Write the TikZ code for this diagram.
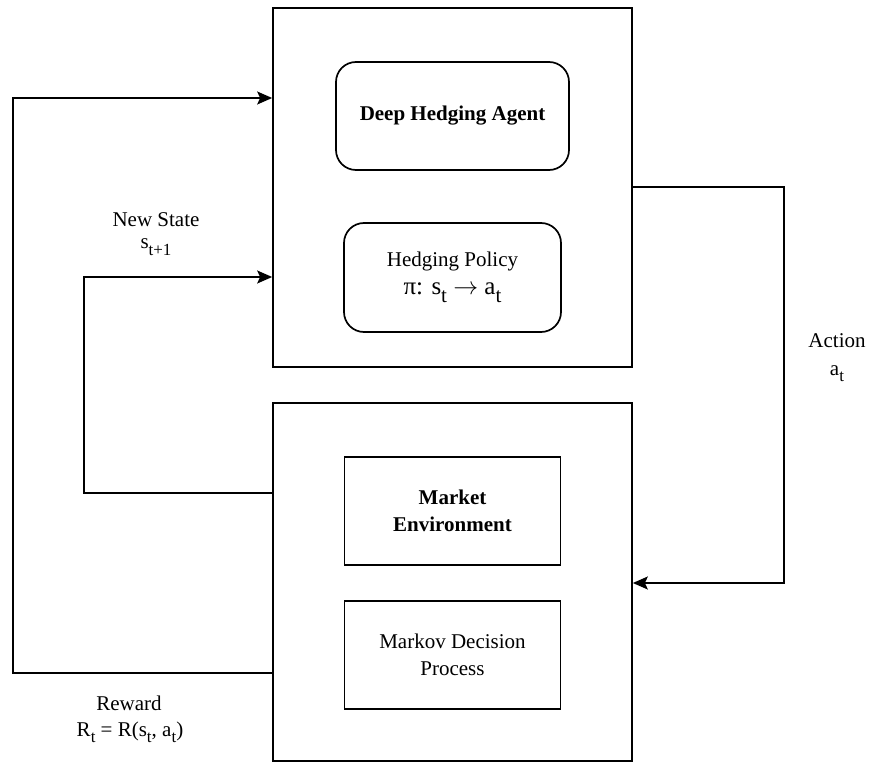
\documentclass[tikz,border=0pt]{standalone}
\usepackage{fontspec}
\setmainfont{Liberation Serif}
\usetikzlibrary{arrows.meta}
\newcommand\mysub[1]{\raisebox{-0.3em}{\fontsize{17}{17}\selectfont #1}}
\newcommand\bigsub[1]{\raisebox{-0.3em}{\fontsize{21}{21}\selectfont #1}}
\begin{document}
\begin{tikzpicture}[x=1pt,y=-1pt,line width=1.7pt,
  outer/.style={draw,minimum width=359pt,minimum height=359pt,inner sep=0pt},
  inbox/.style={draw,minimum width=216pt,minimum height=108pt,inner sep=0pt,align=center,font=\fontsize{21}{27}\selectfont},
  lbl/.style={align=center,font=\fontsize{21}{26}\selectfont,inner sep=0pt,anchor=base},
  conn/.style={-{Stealth[length=15pt,width=13pt,inset=3pt]},line width=1.7pt}]
\useasboundingbox (0,0) rectangle (871,762);
\node[outer] (top) at (452.5,187.5) {};
\node[outer,minimum height=358pt] (bot) at (452.5,582) {};
\node[inbox,rounded corners=20pt,minimum width=233pt] (agent) at (452.5,116) {\textbf{Deep Hedging Agent}};
\node[inbox,rounded corners=20pt,minimum width=217pt,minimum height=109pt] (policy) at (452.5,277.5) {Hedging Policy\\[1pt]{\fontsize{25}{30}\selectfont π: s\bigsub{t} \(\rightarrow\) a\bigsub{t}}};
\node[inbox] (market) at (452.5,511) {\textbf{Market}\\\textbf{Environment}};
\node[inbox] (markov) at (452.5,655) {Markov Decision\\Process};
\coordinate (c1) at (13,673);
\coordinate (c2) at (13,98);
\coordinate (d1) at (84,493);
\coordinate (d2) at (84,277);
\coordinate (e1) at (784,187);
\coordinate (e2) at (784,583);
\draw[conn] (bot.west |- c1) -- (c1) -- (c2) -- (top.west |- c2);
\draw[conn] (bot.west |- d1) -- (d1) -- (d2) -- (top.west |- d2);
\draw[conn] (top.east |- e1) -- (e1) -- (e2) -- (bot.east |- e2);
\node[lbl] (ns1) at (156,227) {New State};
\node[lbl] (ns2) at (156,249) {s\mysub{t+1}};
\node[lbl] (act1) at (837,348) {Action};
\node[lbl] (act2) at (837,375) {a\mysub{t}};
\node[lbl] (rew1) at (129,710) {Reward};
\node[lbl] (rew2) at (130,736) {R\mysub{t} = R(s\mysub{t}, a\mysub{t})};
\end{tikzpicture}
\end{document}
